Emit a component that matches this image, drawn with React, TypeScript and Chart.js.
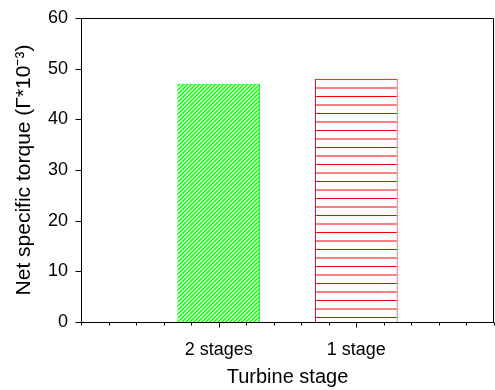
import { useEffect, useRef } from 'react';
import { Chart, registerables } from 'chart.js';

Chart.register(...registerables);

const categories = ['2 stages', '1 stage'];
const categoryPositions = [1, 2];
const torqueValues = [47, 48];
const yTickValues = [0, 10, 20, 30, 40, 50, 60];
const xAxisTitle = 'Turbine stage';
const yAxisTitle = 'Net specific torque (Γ*10⁻³)';

const FONT = '"Liberation Sans", Arial, Helvetica, sans-serif';

function makeGreenPattern(ctx: CanvasRenderingContext2D) {
  const tile = document.createElement('canvas');
  tile.width = 4;
  tile.height = 4;
  const g = tile.getContext('2d')!;
  g.fillStyle = '#ffffff';
  g.fillRect(0, 0, 4, 4);
  g.strokeStyle = '#00ff00';
  g.lineWidth = 1.5;
  g.beginPath();
  g.moveTo(0, 4);
  g.lineTo(4, 0);
  g.moveTo(-1, 1);
  g.lineTo(1, -1);
  g.moveTo(3, 5);
  g.lineTo(5, 3);
  g.stroke();
  return ctx.createPattern(tile, 'repeat')!;
}

function makeRedPattern(ctx: CanvasRenderingContext2D) {
  const tile = document.createElement('canvas');
  tile.width = 4;
  tile.height = 17;
  const g = tile.getContext('2d')!;
  g.fillStyle = '#ffffff';
  g.fillRect(0, 0, 4, 17);
  g.fillStyle = '#ff0000';
  g.fillRect(0, 2.5, 4, 1);
  g.fillRect(0, 11, 4, 1);
  return ctx.createPattern(tile, 'repeat')!;
}

const framePlugin = {
  id: 'frameTicks',
  afterDraw(chart: any) {
    const { ctx, chartArea } = chart;
    const { left, right, top, bottom } = chartArea;
    const xs = chart.scales.x;
    const ys = chart.scales.y;
    ctx.save();
    ctx.strokeStyle = '#000000';
    ctx.lineWidth = 1;
    ctx.beginPath();
    const L = Math.round(left) + 0.5;
    const R = Math.round(right) - 0.5;
    const T = Math.round(top) + 0.5;
    const B = Math.round(bottom) + 0.5;
    ctx.moveTo(L, B);
    ctx.lineTo(L, T);
    ctx.lineTo(R, T);
    ctx.lineTo(R, B);
    ctx.moveTo(L, B);
    ctx.lineTo(R + 0.5, B);
    for (const v of yTickValues) {
      const y = Math.round(ys.getPixelForValue(v)) + 0.5;
      ctx.moveTo(L - 6, y);
      ctx.lineTo(L, y);
    }
    for (let i = 0; i <= 15; i++) {
      const v = i / 5;
      const x = Math.round(xs.getPixelForValue(v)) + 0.5;
      const major = i % 5 === 0 && i > 0 && i < 15;
      ctx.moveTo(x, B);
      ctx.lineTo(x, B + (major ? 5 : 3));
    }
    ctx.stroke();
    ctx.restore();
  },
};

const zeroPad = (s: any) => {
  s.paddingLeft = 0;
  s.paddingRight = 0;
  s.paddingTop = 0;
  s.paddingBottom = 0;
};

export default function App() {
  const ref = useRef<HTMLCanvasElement>(null);
  useEffect(() => {
    const canvas = ref.current!;
    const ctx = canvas.getContext('2d')!;
    const gPat = makeGreenPattern(ctx);
    const rPat = makeRedPattern(ctx);
    const chart = new Chart(canvas, {
      type: 'bar',
      data: {
        datasets: [
          {
            data: categoryPositions.map((x, i) => ({ x, y: torqueValues[i] })),
            backgroundColor: [gPat, rPat],
            borderColor: ['#00ff00', '#ff0000'],
            borderWidth: 1,
            barPercentage: 0.6,
            categoryPercentage: 1,
          } as any,
        ],
      },
      options: {
        responsive: false,
        animation: false,
        devicePixelRatio: 1,
        layout: { padding: { top: 18, right: 1, left: 0, bottom: 0 } },
        plugins: { legend: { display: false }, tooltip: { enabled: false } },
        scales: {
          x: {
            type: 'linear',
            min: 0,
            max: 3,
            offset: false,
            grid: { display: false, drawTicks: false },
            border: { display: false },
            ticks: {
              stepSize: 1,
              autoSkip: false,
              maxRotation: 0,
              padding: 17,
              color: '#000000',
              font: { family: FONT, size: 18 },
              callback: (v: any) => {
                const i = categoryPositions.indexOf(Number(v));
                return i >= 0 ? categories[i] : '';
              },
            },
            title: {
              display: true,
              text: xAxisTitle,
              color: '#000000',
              font: { family: FONT, size: 20 },
              padding: { top: 0, bottom: 1 },
            },
            afterFit: (s: any) => {
              s.height = 68;
              zeroPad(s);
            },
          },
          y: {
            min: 0,
            max: 60,
            grid: { display: false, drawTicks: false },
            border: { display: false },
            ticks: {
              stepSize: 10,
              padding: 13,
              color: '#000000',
              font: { family: FONT, size: 18 },
            },
            title: {
              display: true,
              text: yAxisTitle,
              color: '#000000',
              font: { family: FONT, size: 21 },
              padding: { top: 12, bottom: 0 },
            },
            afterFit: (s: any) => {
              s.width = 81;
              zeroPad(s);
            },
          },
        },
      } as any,
      plugins: [framePlugin],
    });
    return () => chart.destroy();
  }, []);
  return (
    <div style={{ position: 'fixed', left: 0, top: 0, width: 495, height: 390, background: '#ffffff' }}>
      <canvas ref={ref} width={495} height={390} style={{ display: 'block', width: 495, height: 390 }} />
    </div>
  );
}
